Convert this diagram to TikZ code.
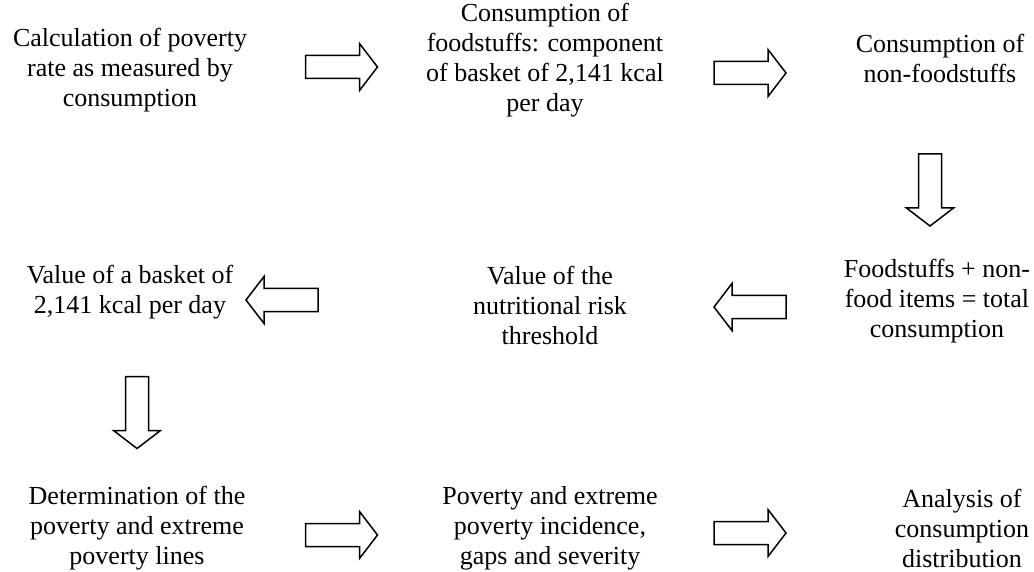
\documentclass[tikz,border=0pt]{standalone}
\usepackage{fontspec}
\setmainfont{Liberation Serif}
\begin{document}
\begin{tikzpicture}[x=1pt,y=-1pt,
  txt/.style={align=center,inner sep=0pt,font=\fontsize{26}{30}\selectfont},
  arrowline/.style={draw=black,line width=1.5pt,fill=white,line join=miter},
  blockarrow/.pic={\draw[arrowline] (-36,-11.5) -- (18,-11.5) -- (18,-23.5) -- (36,0) -- (18,23.5) -- (18,11.5) -- (-36,11.5) -- cycle;}
]
\useasboundingbox (0,0) rectangle (1034,572);
% row 1
\node[txt] (n1) at (130,70) {Calculation of poverty\\rate as measured by\\consumption};
\node[txt] (n2) at (545,60) {Consumption of\\foodstuffs: component\\of basket of 2,141 kcal\\per day};
\node[txt] (n3) at (940,58) {Consumption of\\non-foodstuffs};
% row 2
\node[txt] (n4) at (130,292) {Value of a basket of\\2,141 kcal per day};
\node[txt] (n5) at (550,305) {Value of the\\nutritional risk\\threshold};
\node[txt] (n6) at (937,301) {Foodstuffs + non-\\food items = total\\consumption};
% row 3
\node[txt] (n7) at (137,528) {Determination of the\\poverty and extreme\\poverty lines};
\node[txt] (n8) at (550,528) {Poverty and extreme\\poverty incidence,\\gaps and severity};
\node[txt] (n9) at (962,528) {Analysis of\\consumption\\distribution};
% arrows
\pic at (341.5,67) {blockarrow};
\pic at (750,73) {blockarrow};
\pic[rotate=-90] at (930,190) {blockarrow};
\pic[rotate=180] at (282,300) {blockarrow};
\pic[rotate=180] at (750,307) {blockarrow};
\pic[rotate=-90] at (137,412.5) {blockarrow};
\pic at (341.5,535) {blockarrow};
\pic at (750,533) {blockarrow};
\end{tikzpicture}
\end{document}
